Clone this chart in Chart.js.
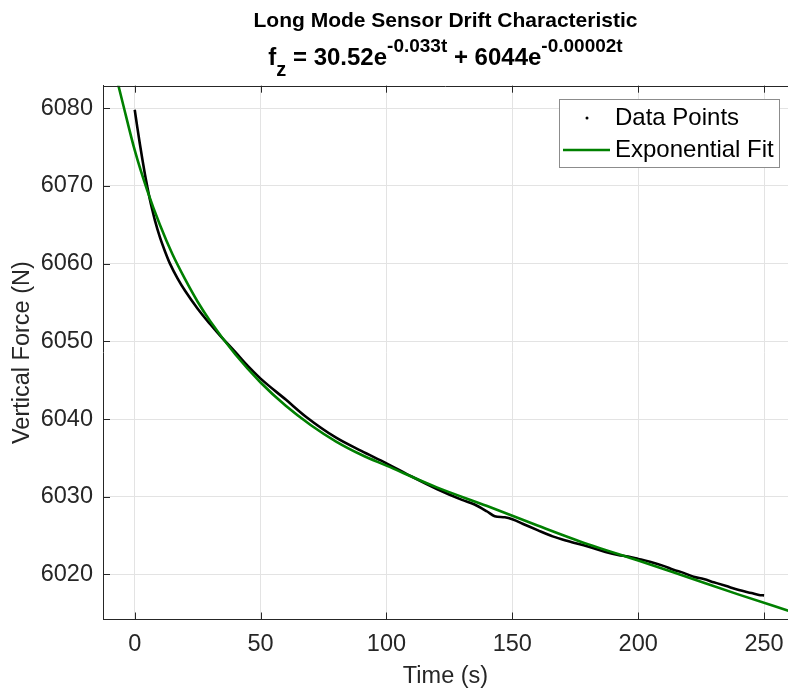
<!DOCTYPE html>
<html>
<head>
<meta charset="utf-8">
<script src="https://cdn.jsdelivr.net/npm/chart.js@4.4.1/dist/chart.umd.min.js"></script>
<style>
  html, body { margin: 0; padding: 0; background: #fff; }
  #wrap { position: relative; width: 788px; height: 691px; }
  #title { position: absolute; left: 103px; width: 685px; top: 0; height: 86px; text-align: center;
           font-family: "Liberation Sans", Arial, sans-serif; font-weight: bold; color: #000; }
  #title .l1 { position: absolute; left: 0; right: 0; top: 8px; line-height: 24px; font-size: 21px; }
  #title .l2 { position: absolute; left: 0; right: 0; top: 44.7px; line-height: 24px; font-size: 24px; }
  #title sup { font-size: 19px; line-height: 0; vertical-align: 13px; }
  #title sub { font-size: 20px; line-height: 0; vertical-align: -11px; }
</style>
</head>
<body>
<div id="wrap">
  <canvas id="myChart" width="788" height="691"></canvas>
  <div id="title">
    <div class="l1">Long Mode Sensor Drift Characteristic</div>
    <div class="l2">f<sub>z</sub> = 30.52e<sup>-0.033t</sup> + 6044e<sup>-0.00002t</sup></div>
  </div>
</div>
<script>
// measured drift (black)
const timeData = [0, 1, 2, 3, 4, 5, 6, 7, 8, 10, 12, 14, 17, 20, 25, 30, 34, 40, 45, 50,
    60, 68, 80, 90, 100, 110, 120, 130, 135, 140, 143, 147, 150, 155, 160, 166, 172, 180, 187,
    192, 196, 200, 205, 210, 214, 218, 222, 226, 230, 235, 240, 245, 248, 250];
const forceData = [6079.8, 6077.6, 6075.5, 6073.5, 6071.6, 6069.9, 6068.3, 6066.9, 6065.6, 6063.4,
    6061.6, 6060.0, 6058.1, 6056.5, 6054.2, 6052.2, 6050.7, 6048.6, 6046.8, 6045.2,
    6042.5, 6040.3, 6037.6, 6035.9, 6034.3, 6032.6, 6031.0, 6029.6, 6029.0, 6028.1, 6027.5,
    6027.35, 6027.1, 6026.4, 6025.7, 6024.9, 6024.3, 6023.6, 6022.9, 6022.5, 6022.3, 6022.0,
    6021.6, 6021.1, 6020.6, 6020.2, 6019.7, 6019.4, 6019.0, 6018.5, 6018.0, 6017.6, 6017.35, 6017.3];

// fitted curve (green)
const fitTime = [-10, -5, 0, 5, 10, 15, 20, 25, 30, 40, 50, 60, 70, 80, 90, 100, 120, 140,
    160, 180, 200, 220, 240, 260];
const fitForce = [6087.5, 6081.0, 6074.6, 6069.4, 6065.0, 6061.2, 6058.0, 6055.1, 6052.6, 6048.3,
    6044.7, 6041.7, 6039.2, 6037.1, 6035.4, 6034.0, 6031.2, 6028.8, 6026.3, 6023.9, 6021.8,
    6019.6, 6017.4, 6015.3];

const xTicks = [0, 50, 100, 150, 200, 250];
const yTicks = [6020, 6030, 6040, 6050, 6060, 6070, 6080];

const fontFamily = '"Liberation Sans", Arial, sans-serif';
const axisColor = '#262626';

// inward ticks, top box line and the legend inside the axes
const frame = {
    id: 'frame',
    afterDraw(chart) {
        const {ctx, chartArea: a, scales: {x, y}} = chart;
        ctx.save();
        ctx.strokeStyle = axisColor;
        ctx.lineWidth = 1;
        ctx.beginPath();
        ctx.moveTo(a.left, Math.round(a.top) + 0.5);
        ctx.lineTo(a.right, Math.round(a.top) + 0.5);
        xTicks.forEach(function (v) {
            const px = Math.round(x.getPixelForValue(v)) + 0.5;
            ctx.moveTo(px, a.bottom);
            ctx.lineTo(px, a.bottom - 7);
            ctx.moveTo(px, a.top);
            ctx.lineTo(px, a.top + 7);
        });
        yTicks.forEach(function (v) {
            const py = Math.round(y.getPixelForValue(v)) + 0.5;
            ctx.moveTo(a.left, py);
            ctx.lineTo(a.left + 7, py);
        });
        ctx.stroke();

        const lg = {x: 559.5, y: 99.5, w: 220, h: 68};
        ctx.fillStyle = '#fff';
        ctx.fillRect(lg.x, lg.y, lg.w, lg.h);
        ctx.strokeStyle = '#8c8c8c';
        ctx.strokeRect(lg.x, lg.y, lg.w, lg.h);
        ctx.font = '24px ' + fontFamily;
        ctx.textBaseline = 'middle';
        chart.data.datasets.forEach(function (ds, i) {
            const cy = lg.y + 18.5 + i * 32;
            if (i === 0) {
                ctx.fillStyle = '#000';
                ctx.beginPath();
                ctx.arc(587, cy, 1.5, 0, Math.PI * 2);
                ctx.fill();
            } else {
                ctx.strokeStyle = ds.borderColor;
                ctx.lineWidth = 2.5;
                ctx.beginPath();
                ctx.moveTo(563, cy);
                ctx.lineTo(610, cy);
                ctx.stroke();
            }
            ctx.fillStyle = '#000';
            ctx.fillText(ds.label, 615, cy);
        });
        ctx.restore();
    }
};

new Chart(document.getElementById('myChart'), {
    type: 'line',
    data: {
        datasets: [
            {
                label: 'Data Points',
                data: timeData.map(function (t, i) { return {x: t, y: forceData[i]}; }),
                borderColor: '#000',
                borderWidth: 2.6,
                pointRadius: 0,
                cubicInterpolationMode: 'monotone',
                order: 1
            },
            {
                label: 'Exponential Fit',
                data: fitTime.map(function (t, i) { return {x: t, y: fitForce[i]}; }),
                borderColor: '#008000',
                borderWidth: 2.6,
                pointRadius: 0,
                cubicInterpolationMode: 'monotone',
                order: 0
            }
        ]
    },
    options: {
        responsive: false,
        animation: false,
        events: [],
        layout: {padding: {top: 85.7, left: 0, right: 0, bottom: 0}},
        plugins: {legend: {display: false}, tooltip: {enabled: false}},
        scales: {
            x: {
                type: 'linear',
                min: -12.6,
                max: 259.5,
                afterBuildTicks: function (s) { s.ticks = xTicks.map(function (v) { return {value: v}; }); },
                afterFit: function (s) { s.height = 71.5; s.paddingLeft = 0; s.paddingRight = 0; },
                grid: {color: '#e3e3e3', drawTicks: false},
                border: {color: axisColor, width: 1},
                ticks: {color: axisColor, padding: 11.4, maxRotation: 0, font: {family: fontFamily, size: 23.5}},
                title: {display: true, text: 'Time (s)', color: axisColor, padding: {top: 0, bottom: 0},
                        font: {family: fontFamily, size: 23.5}}
            },
            y: {
                min: 6014.2,
                max: 6082.9,
                afterBuildTicks: function (s) { s.ticks = yTicks.map(function (v) { return {value: v}; }); },
                afterFit: function (s) { s.width = 103; s.paddingTop = 0; s.paddingBottom = 0; },
                grid: {color: '#e3e3e3', drawTicks: false},
                border: {color: axisColor, width: 1},
                ticks: {color: axisColor, padding: 10, font: {family: fontFamily, size: 23.5},
                        callback: function (v) { return String(v); }},
                title: {display: true, text: 'Vertical Force (N)', color: axisColor, padding: {top: 8, bottom: 0},
                        font: {family: fontFamily, size: 23.5}}
            }
        }
    },
    plugins: [frame]
});
</script>
</body>
</html>
